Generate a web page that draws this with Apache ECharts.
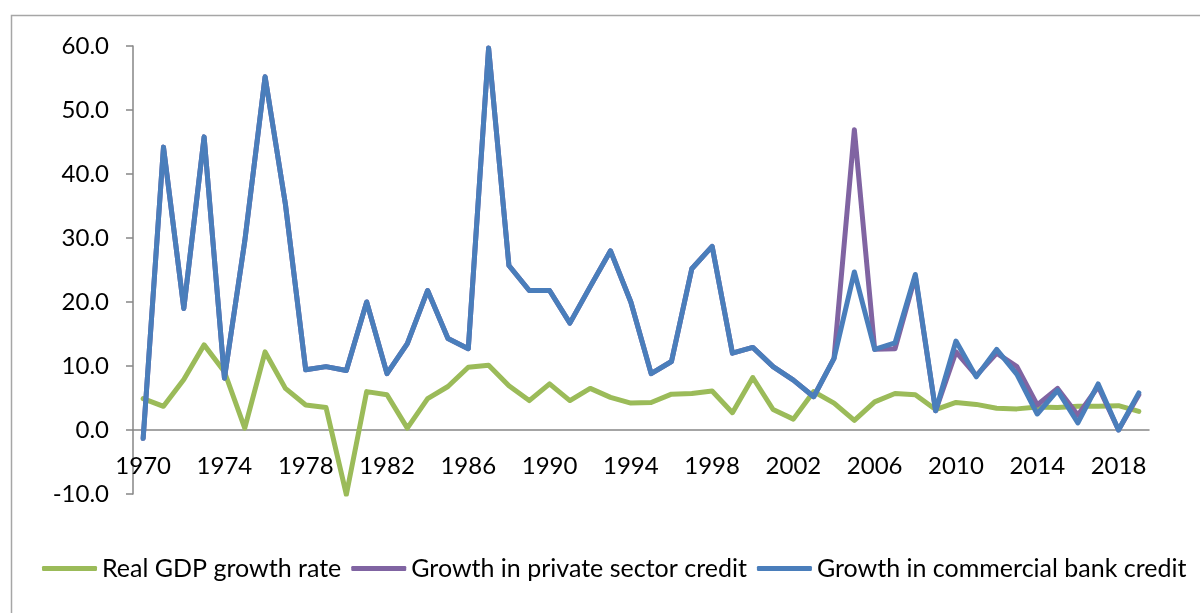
<!DOCTYPE html>
<html>
<head>
<meta charset="utf-8">
<script src="https://cdn.jsdelivr.net/npm/echarts@6/dist/echarts.min.js"></script>
<style>
  html, body { margin: 0; padding: 0; background: #fff; }
  #chart { width: 1200px; height: 613px; }
</style>
</head>
<body>
<div id="chart"></div>
<script>
// years on the category axis
const years = [];
for (let y = 1970; y <= 2019; y++) years.push(String(y));

// Real GDP growth rate (%)
const gdpGrowth = [
  4.9, 3.7, 7.9, 13.3, 9.1, 0.3, 12.2, 6.5, 3.9, 3.5,
  -10.1, 6.0, 5.5, 0.3, 4.9, 6.8, 9.8, 10.1, 6.9, 4.6,
  7.2, 4.6, 6.5, 5.1, 4.2, 4.3, 5.6, 5.7, 6.1, 2.7,
  8.2, 3.2, 1.7, 6.0, 4.2, 1.5, 4.4, 5.7, 5.5, 3.2,
  4.3, 4.0, 3.4, 3.3, 3.6, 3.5, 3.7, 3.7, 3.8, 2.9
];

// Growth in private sector credit (%)
const privateCredit = [
  -1.3, 44.2, 19.0, 45.8, 8.1, 29.5, 55.2, 35.3, 9.4, 9.9,
  9.3, 20.0, 8.8, 13.5, 21.8, 14.3, 12.7, 59.7, 25.7, 21.8,
  21.8, 16.7, 22.4, 28.0, 20.0, 8.8, 10.7, 25.2, 28.7, 12.0,
  12.9, 9.9, 7.8, 5.2, 11.2, 46.9, 12.6, 12.7, 24.0, 3.0,
  12.2, 8.5, 12.0, 9.9, 3.9, 6.5, 2.3, 6.8, 0.0, 5.5
];

// Growth in commercial bank credit (%)
const bankCredit = [
  -1.3, 44.2, 19.0, 45.8, 8.1, 29.5, 55.2, 35.3, 9.4, 9.9,
  9.3, 20.0, 8.8, 13.5, 21.8, 14.3, 12.7, 59.7, 25.7, 21.8,
  21.8, 16.7, 22.4, 28.0, 20.0, 8.8, 10.7, 25.2, 28.7, 12.0,
  12.9, 9.9, 7.8, 5.2, 11.2, 24.7, 12.6, 13.6, 24.3, 3.0,
  13.9, 8.3, 12.6, 8.7, 2.5, 6.2, 1.1, 7.2, 0.0, 5.8
];

const seriesNames = ['Real GDP growth rate', 'Growth in private sector credit', 'Growth in commercial bank credit'];
const seriesColors = ['#9bbb59', '#8064a2', '#4a7ebb'];
const seriesData = [gdpGrowth, privateCredit, bankCredit];

const FONT = 'Lato';
const axisGrey = '#868686';

const chart = echarts.init(document.getElementById('chart'), null, { renderer: 'canvas' });

const option = {
  backgroundColor: '#fff',
  animation: false,
  textStyle: { fontFamily: FONT, color: '#000' },
  graphic: [{
    type: 'rect',
    silent: true,
    shape: { x: 11.5, y: 15.5, width: 1300, height: 800 },
    style: { fill: 'none', stroke: '#a6a6a6', lineWidth: 1.5 }
  }],
  grid: { left: 133, right: 51, top: 46, bottom: 119 },
  legend: {
    left: 42,
    top: 556,
    padding: 0,
    icon: 'roundRect',
    itemWidth: 55,
    itemHeight: 5,
    itemGap: 10,
    textStyle: { fontFamily: FONT, fontSize: 25, color: '#000' },
    data: seriesNames
  },
  xAxis: {
    type: 'category',
    data: years,
    boundaryGap: true,
    // the axis sits on the zero line, labels follow it
    offset: -64,
    axisLine: { onZero: false, lineStyle: { color: axisGrey, width: 1.5 } },
    axisTick: { interval: 3, length: 8, lineStyle: { color: axisGrey, width: 1.5 } },
    axisLabel: { interval: 3, margin: 24, fontFamily: FONT, fontSize: 24, color: '#000' },
    splitLine: { show: false }
  },
  yAxis: {
    type: 'value',
    min: -10,
    max: 60,
    interval: 10,
    axisLine: { show: true, lineStyle: { color: axisGrey, width: 1.5 } },
    axisTick: { show: true, length: 7, lineStyle: { color: axisGrey, width: 1.5 } },
    axisLabel: {
      margin: 24,
      fontFamily: FONT,
      fontSize: 24,
      color: '#000',
      formatter: (v) => v.toFixed(1)
    },
    splitLine: { show: false }
  },
  series: seriesNames.map((name, i) => ({
    name: name,
    type: 'line',
    data: seriesData[i],
    symbol: 'none',
    color: seriesColors[i],
    lineStyle: { width: 5, color: seriesColors[i], cap: 'round', join: 'round' },
    z: 2 + i
  }))
};

chart.setOption(option);
</script>
</body>
</html>
